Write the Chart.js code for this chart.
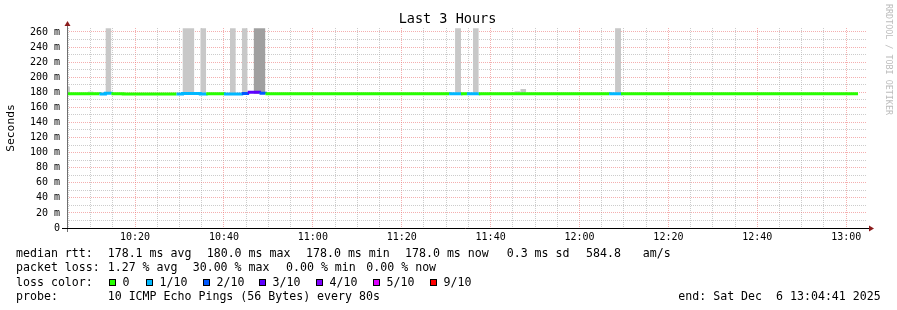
<!DOCTYPE html>
<html><head><meta charset="utf-8">
<script src="https://cdn.jsdelivr.net/npm/chart.js@4/dist/chart.umd.min.js"></script>
<style>html,body{margin:0;padding:0;background:#fff}#wrap{width:897px;height:310px;position:relative}</style>
</head><body><div id="wrap"><canvas id="c" width="897" height="310"></canvas></div>
<script>
// ---- data ----
const xStart = '10:04:41';
const xEnd = '13:04:41';
const xTickLabels = ['10:20','10:40','11:00','11:20','11:40','12:00','12:20','12:40','13:00'];
const xMinorStepMin = 5;
const yTickLabels = ['0','20 m','40 m','60 m','80 m','100 m','120 m','140 m','160 m','180 m','200 m','220 m','240 m','260 m'];
const yMajorStep = 20, yMinorStep = 10, yMax = 265.3;

// median rtt (ms), stepped: each value holds until the next time
const rttTimes  = ['10:04:00','10:12:00','10:13:20','10:14:40','10:17:20','10:29:20','10:30:40','10:34:40','10:36:00','10:40:00','10:44:00','10:45:20','10:48:00','10:49:20','11:30:40','11:33:20','11:34:40','11:37:20','12:06:40','12:09:20','13:02:40'];
const rttMedian = [178.2, 177.8, 178.6, 178.2, 177.9, 177.9, 178.3, 177.9, 178.2, 177.9, 178.5, 180.0, 178.8, 178.2, 178.0, 178.1, 178.0, 178.1, 178.0, 178.1, 178.1];
const lossCount = [0, 1, 1, 0, 0, 1, 1, 1, 0, 1, 2, 3, 2, 0, 1, 0, 1, 0, 1, 0, 0];

// smoke (ping spread) blocks
const smokeStart = ['10:04:00','10:09:20','10:13:20','10:30:40','10:34:40','10:41:20','10:44:00','10:46:40','11:32:00','11:36:00','11:45:20','11:46:40','12:08:00'];
const smokeEnd   = ['10:05:20','10:10:40','10:14:40','10:33:20','10:36:00','10:42:40','10:45:20','10:49:20','11:33:20','11:37:20','11:46:40','11:48:00','12:09:20'];
const smokeLow   = [178, 178, 178, 178, 178, 178, 178, 178, 178, 178, 178, 178, 178];
const smokeHigh  = [187.5, 181, 265, 265, 265, 265, 265, 265, 265, 265, 181.4, 184.4, 265];
const smokeShade = ['#c8c8c8','#d4d4d4','#c8c8c8','#c8c8c8','#c8c8c8','#c8c8c8','#c8c8c8','#a0a0a0','#c8c8c8','#c8c8c8','#c8c8c8','#c8c8c8','#c8c8c8'];

const lossLabels = ['0','1/10','2/10','3/10','4/10','5/10','9/10'];
const lossLevels = [0,1,2,3,4,5,9];
const lossColors = ['#26ff00','#00b8ff','#0059ff','#5e00ff','#7e00ff','#dd00ff','#ff0000'];

// ---- helpers ----
function toMin(s){ const p = s.split(':').map(Number); return p[0]*60 + p[1] + (p[2]||0)/60; }
function colorForLoss(n){ const i = lossLevels.indexOf(n); return lossColors[i >= 0 ? i : lossColors.length-1]; }

const xMin = toMin(xStart), xMax = toMin(xEnd);
const xMajors = xTickLabels.map(toMin);
const xGrid = [];
for (let m = Math.ceil(xMin/xMinorStepMin)*xMinorStepMin; m <= xMax; m += xMinorStepMin) xGrid.push(m);
const yGrid = [];
for (let v = 0; v <= (yTickLabels.length-1)*yMajorStep; v += yMinorStep) yGrid.push(v);

const MAJOR = 'rgba(235,110,110,0.55)';
const MINOR = 'rgba(170,170,170,0.6)';
const MONO = "'DejaVu Sans Mono', monospace";

const datasets = [];
smokeStart.forEach((s, i) => {
  datasets.push({
    type: 'line',
    data: [{x: toMin(s), y: smokeHigh[i]}, {x: toMin(smokeEnd[i]), y: smokeHigh[i]}],
    borderWidth: 0, pointRadius: 0, backgroundColor: smokeShade[i],
    fill: {value: smokeLow[i]}, order: 2, clip: 0
  });
});
datasets.push({
  type: 'line',
  data: rttTimes.map((t, i) => ({x: toMin(t), y: rttMedian[i]})),
  stepped: true, borderWidth: 3, pointRadius: 0, fill: false, order: 0, clip: 0,
  borderColor: colorForLoss(0), borderCapStyle: 'butt', borderJoinStyle: 'miter',
  segment: { borderColor: c => colorForLoss(lossCount[c.p0DataIndex]) }
});

const overlay = {
  id: 'overlay',
  afterDraw(chart) {
    const {ctx, chartArea: a} = chart;
    ctx.save();
    // y axis
    ctx.strokeStyle = '#707070'; ctx.lineWidth = 1;
    ctx.beginPath(); ctx.moveTo(a.left + 0.5, a.top - 5); ctx.lineTo(a.left + 0.5, a.bottom + 4); ctx.stroke();
    // x axis
    ctx.strokeStyle = '#000';
    ctx.beginPath(); ctx.moveTo(a.left - 5, a.bottom + 0.5); ctx.lineTo(a.right + 2, a.bottom + 0.5); ctx.stroke();
    // arrows
    ctx.fillStyle = '#8b1c1c';
    ctx.beginPath(); ctx.moveTo(a.left - 2.5, a.top - 2); ctx.lineTo(a.left + 3.5, a.top - 2); ctx.lineTo(a.left + 0.5, a.top - 7); ctx.closePath(); ctx.fill();
    ctx.beginPath(); ctx.moveTo(a.right + 2, a.bottom - 2.5); ctx.lineTo(a.right + 2, a.bottom + 3.5); ctx.lineTo(a.right + 7, a.bottom + 0.5); ctx.closePath(); ctx.fill();

    // title
    ctx.fillStyle = '#000';
    ctx.font = '13.5px ' + MONO; ctx.textAlign = 'center'; ctx.textBaseline = 'middle';
    ctx.fillText('Last 3 Hours', 447.5, 19.5);
    // y axis title
    ctx.save(); ctx.translate(11, 128); ctx.rotate(-Math.PI/2);
    ctx.font = '11.3px ' + MONO; ctx.fillText('Seconds', 0, 0); ctx.restore();
    // watermark
    ctx.save(); ctx.translate(888, 59.5); ctx.rotate(Math.PI/2);
    ctx.fillStyle = '#bcbcbc'; ctx.font = '8.4px ' + MONO; ctx.fillText('RRDTOOL / TOBI OETIKER', 0, 0); ctx.restore();

    // legend
    ctx.fillStyle = '#000'; ctx.textAlign = 'left'; ctx.font = '11.6px ' + MONO;
    const rows = [
      [253.5, [[16,'median rtt:'],[107.7,'178.1 ms avg'],[206.7,'180.0 ms max'],[306,'178.0 ms min'],[405,'178.0 ms now'],[506.7,'0.3 ms sd'],[586,'584.8'],[642.7,'am/s']]],
      [268, [[16,'packet loss:'],[107.7,'1.27 % avg'],[192.7,'30.00 % max'],[286,'0.00 % min'],[366.3,'0.00 % now']]],
      [282.5, [[16,'loss color:']]],
      [296.5, [[16,'probe:'],[107.7,'10 ICMP Echo Pings (56 Bytes) every 80s'],[678.3,'end: Sat Dec  6 13:04:41 2025']]]
    ];
    rows.forEach(([y, items]) => items.forEach(([x, t]) => ctx.fillText(t, x, y)));
    const boxX = [109, 146, 203, 259, 316, 373, 430];
    lossLabels.forEach((lab, i) => {
      const bx = boxX[i];
      ctx.fillStyle = lossColors[i]; ctx.fillRect(bx, 279, 7, 7);
      ctx.strokeStyle = '#000'; ctx.lineWidth = 1; ctx.strokeRect(bx + 0.5, 279.5, 6, 6);
      ctx.fillStyle = '#000'; ctx.fillText(lab, bx + 13.5, 282.5);
    });
    ctx.restore();
  }
};

new Chart(document.getElementById('c'), {
  type: 'line',
  data: { datasets },
  options: {
    responsive: false, animation: false, devicePixelRatio: 1,
    layout: { padding: {top: 28, right: 30, bottom: 0, left: 0} },
    plugins: { legend: {display: false}, title: {display: false}, tooltip: {enabled: false} },
    scales: {
      x: {
        type: 'linear', min: xMin, max: xMax, bounds: 'data',
        afterBuildTicks: s => { s.ticks = xGrid.map(v => ({value: v})); },
        afterFit: s => { s.height = 82; },
        ticks: { autoSkip: false, maxRotation: 0, padding: 3, color: '#000', font: {family: MONO, size: 10},
                 callback: v => { const i = xMajors.findIndex(m => Math.abs(m - v) < 1e-6); return i >= 0 ? xTickLabels[i] : ''; } },
        grid: { color: c => xMajors.some(m => Math.abs(m - c.tick.value) < 1e-6) ? MAJOR : MINOR, lineWidth: 1, drawTicks: false },
        border: { display: false, dash: [1, 1] }
      },
      y: {
        type: 'linear', min: 0, max: yMax, bounds: 'data',
        afterBuildTicks: s => { s.ticks = yGrid.map(v => ({value: v})); },
        afterFit: s => { s.width = 67; },
        ticks: { autoSkip: false, padding: 7, color: '#000', font: {family: MONO, size: 10},
                 callback: v => v % yMajorStep === 0 ? yTickLabels[v / yMajorStep] : '' },
        grid: { color: c => c.tick.value % yMajorStep === 0 ? MAJOR : MINOR, lineWidth: 1, drawTicks: false },
        border: { display: false, dash: [1, 1] }
      }
    }
  },
  plugins: [overlay]
});
</script>
</body></html>
